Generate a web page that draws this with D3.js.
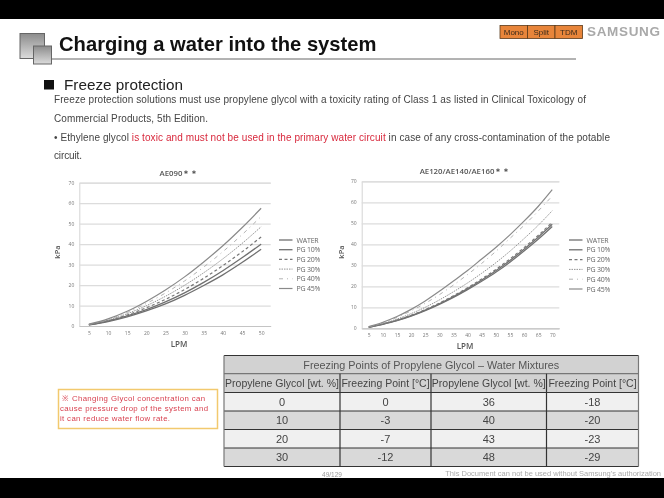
<!DOCTYPE html>
<html>
<head>
<meta charset="utf-8">
<script src="https://cdn.jsdelivr.net/npm/d3@7"></script>
<style>
  html, body { margin: 0; padding: 0; background: #fff; }
  svg { display: block; filter: blur(0.45px); }
  text { font-family: "Liberation Sans", Arial, sans-serif; }
  .chart text { font-family: "Open Sans", sans-serif; }
</style>
</head>
<body>
<div id="slide"></div>
<script>
// Values
var seriesNames = ["WATER", "PG 10%", "PG 20%", "PG 30%", "PG 40%", "PG 45%"];
var kpaTicks = [0, 10, 20, 30, 40, 50, 60, 70];

var lpmLeft = [5, 10, 15, 20, 25, 30, 35, 40, 45, 50];
var waterLeft = [0.5, 2.2, 4.5, 7.4, 10.8, 15, 19.8, 25, 31, 37.5];
var pg10Left = [0.6, 2.4, 4.9, 8, 11.8, 16.2, 21.3, 27, 33.3, 40];
var pg20Left = [0.6, 2.6, 5.4, 8.9, 13, 17.8, 23.3, 29.5, 36.2, 43.5];
var pg30Left = [0.7, 2.9, 6, 9.9, 14.5, 19.9, 26, 32.8, 40.3, 48.5];
var pg40Left = [0.8, 3.2, 6.6, 11, 16.1, 22, 28.8, 36.3, 44.6, 53.5];
var pg45Left = [0.9, 3.5, 7.2, 12, 17.6, 24, 31.3, 39.2, 48, 57.5];

var lpmRight = [5, 10, 15, 20, 25, 30, 35, 40, 45, 50, 55, 60, 65, 70];
var waterRight = [0.5, 1.9, 3.6, 5.8, 8.4, 11.4, 14.7, 18.4, 22.4, 26.7, 31.5, 36.8, 42.4, 48.5];
var pg10Right = [0.5, 2, 3.8, 6, 8.7, 11.7, 15.1, 18.9, 23, 27.4, 32.3, 37.7, 43.4, 49.5];
var pg20Right = [0.6, 2.1, 3.9, 6.2, 8.9, 12, 15.5, 19.3, 23.5, 28, 33, 38.4, 44.2, 50.5];
var pg30Right = [0.6, 2.3, 4.4, 7, 10, 13.5, 17.4, 21.6, 26.2, 31.2, 36.7, 42.7, 49, 56];
var pg40Right = [0.7, 2.7, 5.2, 8.3, 11.9, 16, 20.6, 25.6, 30.9, 36.6, 42.8, 49, 55.8, 63];
var pg45Right = [0.8, 2.9, 5.6, 9, 13, 17.6, 22.5, 27.5, 33, 38.5, 44.5, 51, 58, 66];

// Freezing point table
var tableTitle = "Freezing Points of Propylene Glycol \u2013 Water Mixtures";
var tableHead = ["Propylene Glycol [wt. %]", "Freezing Point [\u00b0C]", "Propylene Glycol [wt. %]", "Freezing Point [\u00b0C]"];
var tableRows = [
  ["0", "0", "36", "-18"],
  ["10", "-3", "40", "-20"],
  ["20", "-7", "43", "-23"],
  ["30", "-12", "48", "-29"]
];
var tableCols = [224, 340, 431, 546.5, 638.5];
var tableLines = [355.5, 373.7, 392.5, 411, 429.5, 448, 466.5];

var svg = d3.select("#slide").append("svg")
  .attr("width", 664)
  .attr("height", 498);

svg.append("rect").attr("width", 664).attr("height", 498).attr("fill", "#fff");

// black letterbox bars
svg.append("rect").attr("width", 664).attr("height", 19).attr("fill", "#000");
svg.append("rect").attr("y", 478).attr("width", 664).attr("height", 20).attr("fill", "#000");

// header squares
var grad = svg.append("defs").append("linearGradient")
  .attr("id", "sq").attr("x1", 0).attr("y1", 0).attr("x2", 0).attr("y2", 1);
grad.append("stop").attr("offset", 0).attr("stop-color", "#8c8c8c");
grad.append("stop").attr("offset", 1).attr("stop-color", "#dcdcdc");

svg.append("rect").attr("x", 20).attr("y", 33.5).attr("width", 24.5).attr("height", 25)
  .attr("fill", "url(#sq)").attr("stroke", "#666").attr("stroke-width", 1);
svg.append("rect").attr("x", 33.5).attr("y", 46).attr("width", 18).attr("height", 18)
  .attr("fill", "url(#sq)").attr("stroke", "#666").attr("stroke-width", 1);
svg.append("line").attr("x1", 51).attr("x2", 576).attr("y1", 59).attr("y2", 59)
  .attr("stroke", "#666").attr("stroke-width", 1);

svg.append("text").attr("x", 59).attr("y", 51)
  .attr("font-size", 20.2).attr("font-weight", "bold").attr("fill", "#111")
  .text("Charging a water into the system");

// Mono / Split / TDM tags
var tags = ["Mono", "Split", "TDM"];
var tagX = d3.scaleBand().domain(tags).range([500, 582.5]);
svg.selectAll(".tag").data(tags).enter().append("rect")
  .attr("class", "tag")
  .attr("x", function (d) { return tagX(d); })
  .attr("y", 25.5)
  .attr("width", tagX.bandwidth())
  .attr("height", 13)
  .attr("fill", "#e8853a")
  .attr("stroke", "#5a3a1a")
  .attr("stroke-width", 0.8);
svg.selectAll(".tagtext").data(tags).enter().append("text")
  .attr("x", function (d) { return tagX(d) + tagX.bandwidth() / 2; })
  .attr("y", 35)
  .attr("text-anchor", "middle")
  .attr("font-size", 8)
  .attr("fill", "#3a2a1a")
  .text(function (d) { return d; });

svg.append("text").attr("x", 587).attr("y", 36)
  .attr("font-size", 13.5).attr("font-weight", "bold").attr("fill", "#a9a9a9")
  .attr("textLength", 73).attr("lengthAdjust", "spacing")
  .text("SAMSUNG");

// section heading
svg.append("rect").attr("x", 44).attr("y", 80).attr("width", 10).attr("height", 9.5).attr("fill", "#111");
svg.append("text").attr("x", 64).attr("y", 90)
  .attr("font-size", 15.3).attr("fill", "#222").text("Freeze protection");

// body text
function bodyLine(y, parts, len) {
  var t = svg.append("text").attr("x", 54).attr("y", y).attr("font-size", 10)
    .attr("textLength", len).attr("lengthAdjust", "spacing");
  parts.forEach(function (p) {
    t.append("tspan").attr("fill", p[1]).text(p[0]);
  });
}
var ink = "#444", red = "#d8283c";
bodyLine(103, [["Freeze protection solutions must use propylene glycol with a toxicity rating of Class 1 as listed in Clinical Toxicology of", ink]], 532);
bodyLine(122, [["Commercial Products, 5th Edition.", ink]], 154);
bodyLine(140.5, [["\u2022 Ethylene glycol ", ink], ["is toxic and must not be used in the primary water circuit", red], [" in case of any cross-contamination of the potable", ink]], 556);
bodyLine(158.5, [["circuit.", ink]], 28);

// Draws one pressure drop chart from its lpm list and six series
function drawChart(cfg) {
  var g = svg.append("g").attr("class", "chart");

  var x = d3.scalePoint().domain(cfg.lpm).range(cfg.xRange).padding(0.5);
  var y = d3.scaleLinear().domain([0, 70]).range(cfg.yRange);

  // gridlines + axes
  var yAxis = g.append("g")
    .attr("transform", "translate(" + cfg.xRange[0] + ",0)")
    .call(d3.axisLeft(y).tickValues(kpaTicks).tickSize(-(cfg.xRange[1] - cfg.xRange[0])).tickPadding(5));
  yAxis.select(".domain").attr("stroke", "#d4d4d4");
  yAxis.selectAll("line").attr("stroke", "#dcdcdc").attr("stroke-width", 1.2);
  yAxis.selectAll("text").attr("font-size", 5).attr("fill", "#777");

  var xAxis = g.append("g")
    .attr("transform", "translate(0," + cfg.yRange[0] + ")")
    .call(d3.axisBottom(x).tickSize(0).tickPadding(5));
  xAxis.select(".domain").attr("stroke", "#c4c4c4");
  xAxis.selectAll("text").attr("font-size", 5).attr("fill", "#777");

  var line = d3.line()
    .x(function (d, i) { return x(cfg.lpm[i]); })
    .y(function (d) { return y(d); })
    .curve(d3.curveMonotoneX);

  g.selectAll(".curve").data(cfg.series).enter().append("path")
    .attr("class", "curve")
    .attr("d", line)
    .attr("fill", "none")
    .attr("stroke", function (d, i) { return styles[i].color; })
    .attr("stroke-width", function (d, i) { return styles[i].width; })
    .attr("stroke-dasharray", function (d, i) { return styles[i].dash; });

  // legend
  var leg = d3.scaleLinear().domain([0, 5]).range(cfg.legendY);
  var item = g.selectAll(".leg").data(seriesNames).enter().append("g").attr("class", "leg");
  item.append("line")
    .attr("x1", cfg.legendX).attr("x2", cfg.legendX + 13.5)
    .attr("y1", function (d, i) { return leg(i); })
    .attr("y2", function (d, i) { return leg(i); })
    .attr("stroke", function (d, i) { return styles[i].color; })
    .attr("stroke-width", function (d, i) { return styles[i].width; })
    .attr("stroke-dasharray", function (d, i) { return styles[i].dash; });
  item.append("text")
    .attr("x", cfg.legendX + 17.5)
    .attr("y", function (d, i) { return leg(i) + 2.5; })
    .attr("font-size", 7)
    .attr("letter-spacing", -0.2)
    .attr("fill", "#666")
    .text(function (d) { return d; });

  // titles
  g.append("text").attr("x", cfg.titleX).attr("y", cfg.titleY)
    .attr("text-anchor", "middle").attr("font-size", 7.8).attr("font-weight", 600).attr("fill", "#555")
    .text(cfg.title);
  g.append("text").attr("x", cfg.titleX).attr("y", cfg.lpmY)
    .attr("text-anchor", "middle").attr("font-size", 8).attr("font-weight", 600).attr("fill", "#555")
    .text("LPM");
  g.append("text")
    .attr("transform", "translate(" + cfg.kpaX + ",252) rotate(-90)")
    .attr("text-anchor", "middle").attr("font-size", 7.5).attr("font-weight", 600).attr("fill", "#555")
    .text("kPa");
}

var styles = [
  { color: "#707070", width: 1.3, dash: null },
  { color: "#707070", width: 1.3, dash: null },
  { color: "#777", width: 1.2, dash: "3,2.5" },
  { color: "#888", width: 0.9, dash: "1.5,1" },
  { color: "#aaa", width: 0.9, dash: "4,4,1,4" },
  { color: "#8a8a8a", width: 1.2, dash: null }
];

drawChart({
  lpm: lpmLeft,
  series: [waterLeft, pg10Left, pg20Left, pg30Left, pg40Left, pg45Left],
  xRange: [79.3, 270.7],
  yRange: [326, 182.7],
  legendX: 279, legendY: [240, 288.5],
  title: "AE090\uff0a\uff0a", titleX: 179, titleY: 175.5,
  lpmY: 347, kpaX: 60
});

drawChart({
  lpm: lpmRight,
  series: [waterRight, pg10Right, pg20Right, pg30Right, pg40Right, pg45Right],
  xRange: [361.7, 559.3],
  yRange: [328.3, 181.3],
  legendX: 569, legendY: [240, 289],
  title: "AE120/AE140/AE160\uff0a\uff0a", titleX: 465, titleY: 173.5,
  lpmY: 348.5, kpaX: 343.5
});

// callout
svg.append("rect").attr("x", 58.5).attr("y", 389.5).attr("width", 159).attr("height", 39)
  .attr("fill", "#fff").attr("stroke", "#f2c96e").attr("stroke-width", 1.5);
var noteLines = [
  ["\u203b Changing Glycol concentration can", 143],
  ["cause pressure drop of the system and", 148],
  ["it can reduce water flow rate.", 110]
];
var noteY = d3.scaleLinear().domain([0, 2]).range([400.5, 421]);
svg.selectAll(".note").data(noteLines).enter().append("text")
  .attr("class", "note")
  .attr("x", function (d, i) { return i ? 60 : 62; })
  .attr("y", function (d, i) { return noteY(i); })
  .attr("font-size", 7.8)
  .attr("fill", "#d8404f")
  .attr("textLength", function (d) { return d[1]; })
  .attr("lengthAdjust", "spacing")
  .text(function (d) { return d[0]; });

// table
var tg = svg.append("g");
function rowFill(i) {
  return i < 2 ? "#d2d2d2" : (i % 2 === 0 ? "#f0f0f0" : "#d9d9d9");
}
d3.range(6).forEach(function (i) {
  tg.append("rect")
    .attr("x", tableCols[0]).attr("y", tableLines[i])
    .attr("width", tableCols[4] - tableCols[0])
    .attr("height", tableLines[i + 1] - tableLines[i])
    .attr("fill", rowFill(i));
});
tableLines.forEach(function (y, i) {
  tg.append("line").attr("x1", tableCols[0]).attr("x2", tableCols[4]).attr("y1", y).attr("y2", y)
    .attr("stroke", i === 1 ? "#777" : "#333").attr("stroke-width", 1.2);
});
tableCols.forEach(function (x, i) {
  tg.append("line").attr("x1", x).attr("x2", x)
    .attr("y1", (i === 0 || i === 4) ? tableLines[0] : tableLines[1])
    .attr("y2", tableLines[6])
    .attr("stroke", (i === 0 || i === 4) ? "#777" : "#333").attr("stroke-width", 1.2);
});
tg.append("text")
  .attr("x", (tableCols[0] + tableCols[4]) / 2).attr("y", tableLines[0] + 13)
  .attr("text-anchor", "middle").attr("font-size", 10.8).attr("fill", "#555")
  .text(tableTitle);
tableHead.forEach(function (h, c) {
  tg.append("text")
    .attr("x", (tableCols[c] + tableCols[c + 1]) / 2).attr("y", tableLines[1] + 13.5)
    .attr("text-anchor", "middle").attr("font-size", 10.5).attr("fill", "#444")
    .text(h);
});
tableRows.forEach(function (row, r) {
  row.forEach(function (v, c) {
    tg.append("text")
      .attr("x", (tableCols[c] + tableCols[c + 1]) / 2).attr("y", tableLines[r + 2] + 13)
      .attr("text-anchor", "middle").attr("font-size", 11).attr("fill", "#444")
      .text(v);
  });
});

// footer
svg.append("text").attr("x", 332).attr("y", 476.5)
  .attr("text-anchor", "middle").attr("font-size", 6.5).attr("fill", "#999").text("49/129");
svg.append("text").attr("x", 661).attr("y", 476)
  .attr("text-anchor", "end").attr("font-size", 7.5).attr("fill", "#aaa")
  .text("This Document can not be used without Samsung's authorization");
</script>
</body>
</html>
